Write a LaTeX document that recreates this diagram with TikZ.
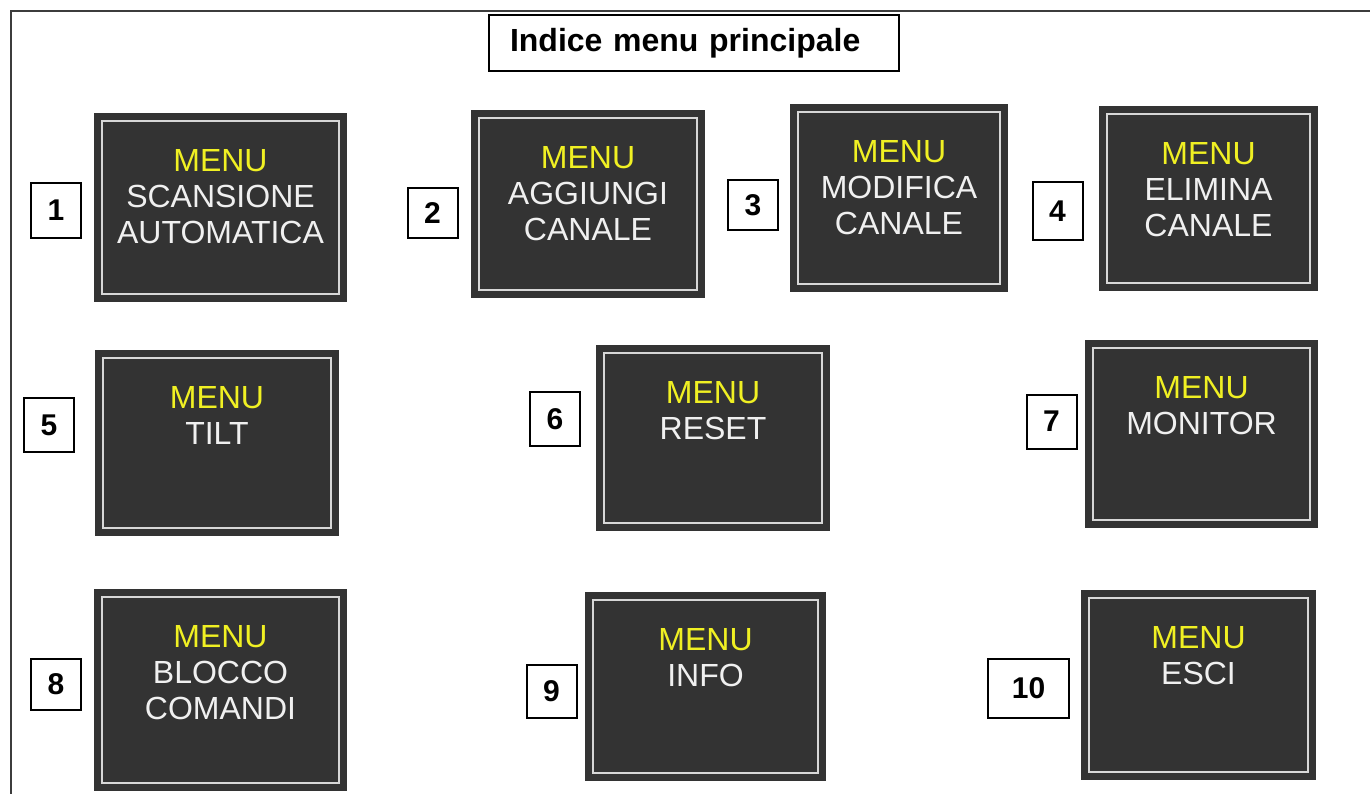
\documentclass[tikz,border=0pt]{standalone}
\usepackage{fontspec}
\setmainfont{Liberation Sans}
\usetikzlibrary{positioning}
\definecolor{sfondomenu}{RGB}{51,51,51}
\definecolor{giallomenu}{RGB}{240,240,35}
\definecolor{bordointerno}{RGB}{215,215,215}
\definecolor{cornice}{RGB}{60,60,60}
\tikzset{
	menubox/.style={rectangle,fill=sfondomenu,inner sep=0pt,
		path picture={\draw[bordointerno,line width=1pt]
			([shift={(4pt,-4pt)}]path picture bounding box.north west) rectangle
			([shift={(-4pt,4pt)}]path picture bounding box.south east);}},
	testomenu/.style={inner sep=0pt,align=center,text=white!94!black,
		font=\fontsize{16}{18}\selectfont},
	numbox/.style={draw,fill=white,line width=1pt,inner sep=0pt,
		minimum width=25pt,minimum height=27pt,font=\fontsize{15}{18}\selectfont\bfseries}
}
\begin{document}
\begin{tikzpicture}[x=0.5pt,y=-0.5pt]
		\useasboundingbox (0,0) rectangle (1370,794);
		\draw[line width=1pt,color=cornice] (1370,11)--(11,11)--(11,794);
		\node[draw,line width=1pt,minimum width=205pt,minimum height=28pt,inner xsep=10.5pt,
			text width=184pt,align=left,font=\fontsize{16}{18}\selectfont\bfseries] (titolo) at (694,43) {Indice menu principale};
		% prima riga
		\node[menubox,minimum width=126.5pt,minimum height=94.5pt] (m1) at (220.5,207.5) {};
		\node[menubox,minimum width=117pt,minimum height=94pt] (m2) at (588,204) {};
		\node[menubox,minimum width=109pt,minimum height=94pt] (m3) at (899,198) {};
		\node[menubox,minimum width=109.5pt,minimum height=92.5pt] (m4) at (1208.5,198.5) {};
		\node[testomenu,below=18pt of m1.north] (t1) {{\color{giallomenu}MENU}\\SCANSIONE\\AUTOMATICA};
		\node[testomenu,below=18pt of m2.north] (t2) {{\color{giallomenu}MENU}\\AGGIUNGI\\CANALE};
		\node[testomenu,below=18pt of m3.north] (t3) {{\color{giallomenu}MENU}\\MODIFICA\\CANALE};
		\node[testomenu,below=18pt of m4.north] (t4) {{\color{giallomenu}MENU}\\ELIMINA\\CANALE};
		\node[numbox,minimum height=27.5pt] (n1) at (56,210.5) {1};
		\node[numbox,minimum height=25pt] (n2) at (432.5,213) {2};
		\node[numbox,minimum height=25pt] (n3) at (753,205) {3};
		\node[numbox,minimum height=29pt] (n4) at (1057.5,211) {4};
		% seconda riga
		\node[menubox,minimum width=122pt,minimum height=93pt] (m5) at (217,443) {};
		\node[menubox,minimum width=117pt,minimum height=93pt] (m6) at (713,438) {};
		\node[menubox,minimum width=116.5pt,minimum height=94pt] (m7) at (1201.5,434) {};
		\node[testomenu,below=18pt of m5.north] (t5) {{\color{giallomenu}MENU}\\TILT};
		\node[testomenu,below=18pt of m6.north] (t6) {{\color{giallomenu}MENU}\\RESET};
		\node[testomenu,below=18pt of m7.north] (t7) {{\color{giallomenu}MENU}\\MONITOR};
		\node[numbox] (n5) at (49,425) {5};
		\node[numbox] (n6) at (555,419) {6};
		\node[numbox] (n7) at (1051.5,421.5) {7};
		% terza riga
		\node[menubox,minimum width=126.5pt,minimum height=101pt] (m8) at (220.5,690) {};
		\node[menubox,minimum width=120.5pt,minimum height=94.5pt] (m9) at (705.5,686.5) {};
		\node[menubox,minimum width=117.5pt,minimum height=95pt] (m10) at (1198.5,685) {};
		\node[testomenu,below=18pt of m8.north] (t8) {{\color{giallomenu}MENU}\\BLOCCO\\COMANDI};
		\node[testomenu,below=18pt of m9.north] (t9) {{\color{giallomenu}MENU}\\INFO};
		\node[testomenu,below=18pt of m10.north] (t10) {{\color{giallomenu}MENU}\\ESCI};
		\node[numbox,minimum height=25.5pt] (n8) at (56,684.5) {8};
		\node[numbox,minimum height=26.5pt] (n9) at (551.5,691.5) {9};
		\node[numbox,minimum width=40.5pt,minimum height=29.5pt] (n10) at (1028.5,688.5) {10};
	\end{tikzpicture}
\end{document}
